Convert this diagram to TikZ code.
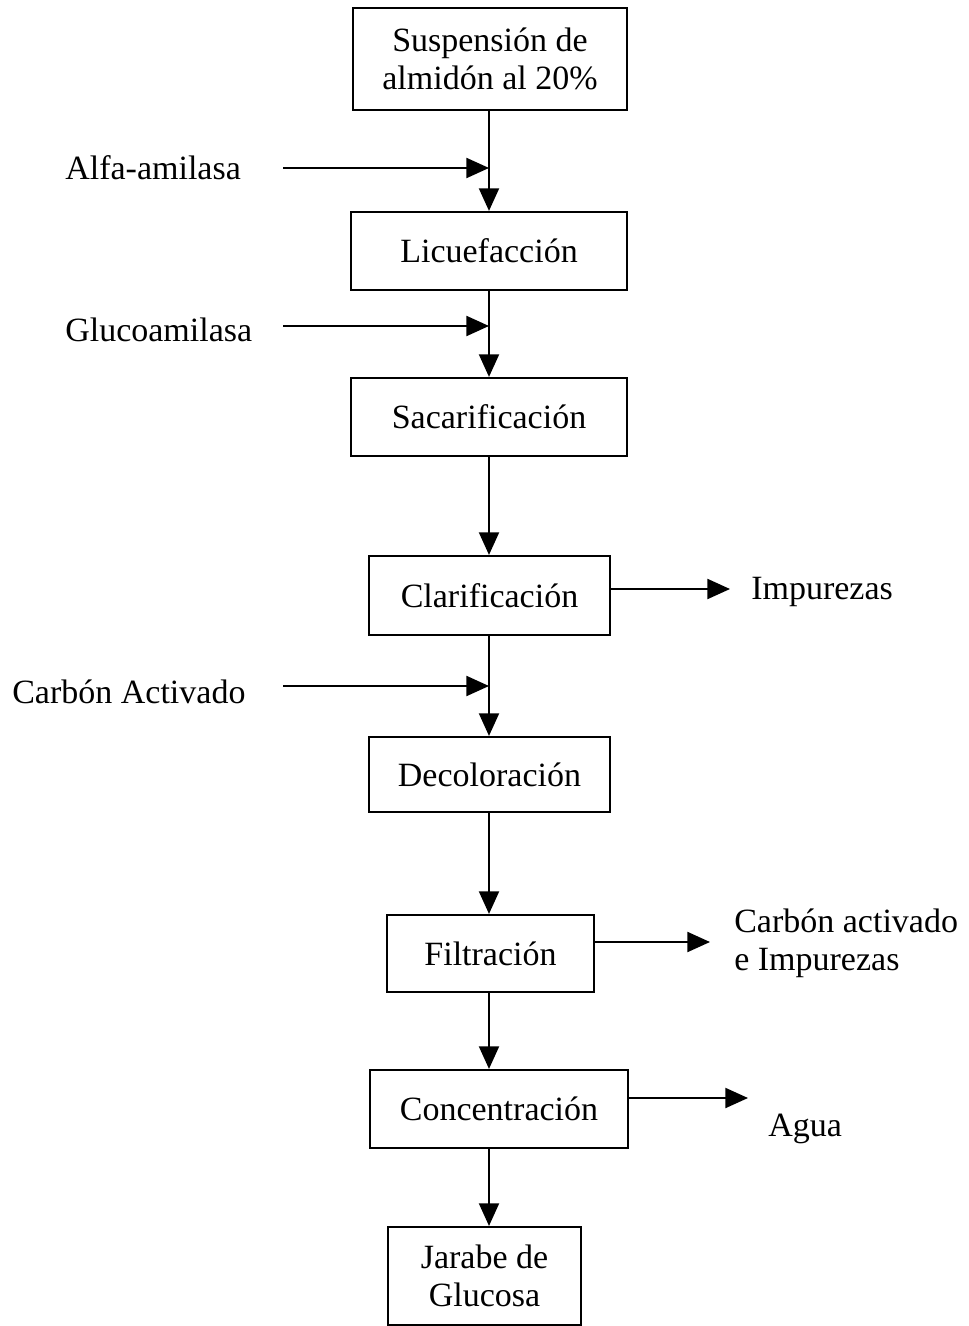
\documentclass[tikz,border=0pt]{standalone}
\usepackage{fontspec}
\setmainfont{Liberation Serif}
\usetikzlibrary{arrows.meta}
\begin{document}
\begin{tikzpicture}[x=0.75pt,y=-0.75pt,
  every node/.style={font=\fontsize{25.5}{28.5}\selectfont},
  box/.style={draw,line width=1.6pt,rectangle,inner sep=0pt,align=center},
  lbl/.style={inner sep=0pt,anchor=west,align=left},
  arr/.style={line width=1.6pt,-{Triangle[length=17pt,width=15pt]}}]
\useasboundingbox (0,0) rectangle (969,1326);
\coordinate (spine) at (489,0);
% boxes
\node[box,minimum width=274*0.75pt,minimum height=102*0.75pt] (b1) at (490,59) {Suspensión de\\almidón al 20\%};
\node[box,minimum width=276*0.75pt,minimum height=78*0.75pt] (b2) at (489,251) {Licuefacción};
\node[box,minimum width=276*0.75pt,minimum height=78*0.75pt] (b3) at (489,417) {Sacarificación};
\node[box,minimum width=241*0.75pt,minimum height=79*0.75pt] (b4) at (489.5,595.5) {Clarificación};
\node[box,minimum width=241*0.75pt,minimum height=75*0.75pt] (b5) at (489.5,774.5) {Decoloración};
\node[box,minimum width=207*0.75pt,minimum height=77*0.75pt] (b6) at (490.5,953.5) {Filtración};
\node[box,minimum width=258*0.75pt,minimum height=78*0.75pt] (b7) at (499,1109) {Concentración};
\node[box,minimum width=193*0.75pt,minimum height=98*0.75pt] (b8) at (484.5,1276) {Jarabe de\\Glucosa};
% vertical arrows
\draw[arr] (b1.south -| spine) -- (b2.north -| spine);
\draw[arr] (b2.south -| spine) -- (b3.north -| spine);
\draw[arr] (b3.south -| spine) -- (b4.north -| spine);
\draw[arr] (b4.south -| spine) -- (b5.north -| spine);
\draw[arr] (b5.south -| spine) -- (b6.north -| spine);
\draw[arr] (b6.south -| spine) -- (b7.north -| spine);
\draw[arr] (b7.south -| spine) -- (b8.north -| spine);
% inputs
\node[lbl] (l1) at (65,168) {Alfa-amilasa};
\node[lbl] (l2) at (65,330) {Glucoamilasa};
\node[lbl] (l3) at (12,692) {Carbón Activado};
\coordinate (s1) at (283,168);
\coordinate (s2) at (283,326);
\coordinate (s3) at (283,686);
\draw[arr] (s1) -- (s1 -| spine);
\draw[arr] (s2) -- (s2 -| spine);
\draw[arr] (s3) -- (s3 -| spine);
% outputs
\coordinate (o1) at (730,589);
\coordinate (o2) at (710,942);
\coordinate (o3) at (748,1098);
\draw[arr] (b4.east |- o1) -- (o1);
\draw[arr] (b6.east |- o2) -- (o2);
\draw[arr] (b7.east |- o3) -- (o3);
\node[lbl] (r1) at (751,592) {Impurezas};
\node[lbl] (r2) at (734,943) {Carbón activado\\e Impurezas};
\node[lbl] (r3) at (768,1129) {Agua};
\end{tikzpicture}
\end{document}
